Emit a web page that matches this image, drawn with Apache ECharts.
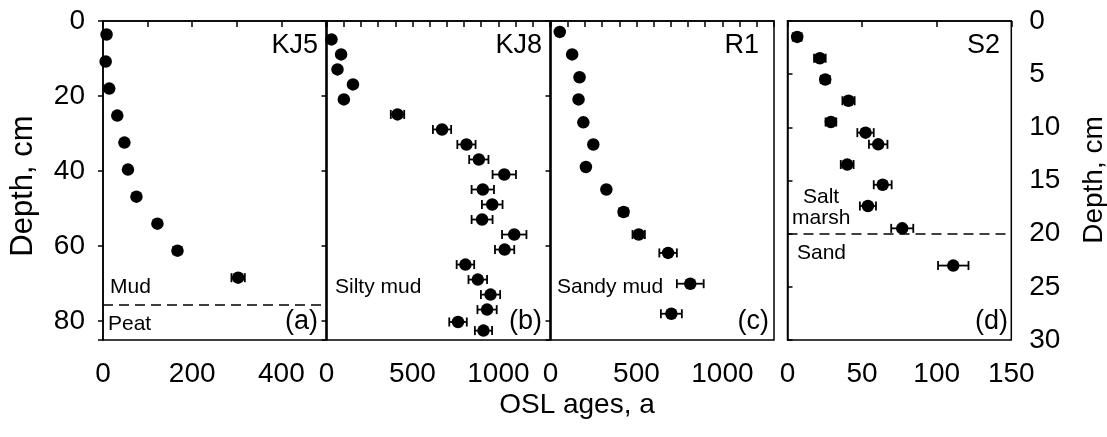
<!DOCTYPE html>
<html><head><meta charset="utf-8">
<script src="https://cdn.jsdelivr.net/npm/echarts@6/dist/echarts.min.js"></script>
<style>html,body{margin:0;padding:0;background:#fff}#c{width:1107px;height:437px}</style>
</head><body><div id="c"></div><script>
// ---- data ----
const kj5Age   = [8, 6, 14, 32, 48, 56, 75, 122, 167, 303];
const kj5Depth = [3.6, 10.8, 18, 25.2, 32.4, 39.6, 46.8, 54, 61.2, 68.4];
const kj5Err   = [3, 3, 3, 3, 3, 3, 4, 6, 9, 15];
const kj5Boundary = 75.6;

const kj8Age   = [29, 85, 64, 154, 101, 413, 672, 814, 886, 1034, 909, 964, 905, 1092, 1036, 808, 880, 954, 934, 765, 913];
const kj8Depth = [4.9, 8.9, 12.9, 16.9, 20.9, 24.9, 28.9, 32.9, 36.9, 40.9, 44.9, 48.9, 52.9, 56.9, 60.9, 64.9, 68.9, 72.9, 76.9, 80.2, 82.5];
const kj8Err   = [5, 5, 5, 8, 6, 39, 53, 53, 56, 68, 65, 60, 61, 71, 56, 51, 54, 56, 56, 51, 50];

const r1Age    = [54, 126, 169, 163, 191, 249, 206, 325, 425, 513, 684, 813, 703];
const r1Depth  = [2.9, 8.9, 15, 20.9, 27, 32.9, 38.9, 44.9, 50.9, 56.9, 61.8, 70, 78];
const r1Err    = [8, 8, 8, 8, 10, 10, 10, 15, 25, 36, 51, 78, 61];

const s2Age    = [6.5, 21.7, 25.3, 40.9, 29.1, 52.3, 60.8, 40, 63.8, 53.9, 76.9, 111.1];
const s2Depth  = [1.5, 3.5, 5.5, 7.5, 9.5, 10.5, 11.6, 13.5, 15.4, 17.4, 19.5, 23];
const s2Err    = [3, 3.9, 3, 4.1, 3.6, 5.5, 6.2, 4.3, 6, 5.4, 7.4, 10.2];
const s2Boundary = 20;

const yTicksLeft = [0, 20, 40, 60, 80];
const yTicksRight = [0, 5, 10, 15, 20, 25, 30];
const xTicksA = [0, 200, 400];
const xTicksBC = [0, 500, 1000];
const xTicksD = [0, 50, 100, 150];

// ---- chart ----
const FONT = "'Liberation Sans', Arial, Helvetica, sans-serif";
const chart = echarts.init(document.getElementById('c'), null, {renderer: 'canvas'});

const grids = [
  {left: 103, top: 21, width: 223, height: 319},
  {left: 326.5, top: 21, width: 223.5, height: 319},
  {left: 550.5, top: 21, width: 223.5, height: 319},
  {left: 787.5, top: 21, width: 223.8, height: 319}
].map(g => Object.assign(g, {show: true, borderColor: '#000', borderWidth: 1.5, backgroundColor: 'transparent', containLabel: false, outerBoundsMode: 'none'}));

function xAxis(gi, max, interval, shown) {
  return {
    type: 'value', gridIndex: gi, min: 0, max: max, interval: interval, position: 'bottom',
    axisLine: {show: true, lineStyle: {color: '#000', width: 1.5}},
    axisTick: {show: true, length: 6, lineStyle: {color: '#000', width: 1.5}},
    splitLine: {show: false},
    axisLabel: {show: true, margin: 20, fontSize: 28, color: '#000', fontFamily: FONT,
      formatter: v => shown.indexOf(v) >= 0 ? String(v) : ''}
  };
}
function yAxis(gi, max, interval, shown, pos, labels) {
  return {
    type: 'value', gridIndex: gi, min: 0, max: max, interval: interval, inverse: true, position: pos,
    axisLine: {show: true, lineStyle: {color: '#000', width: 1.5}},
    axisTick: {show: true, length: 5, lineStyle: {color: '#000', width: 1.5}},
    splitLine: {show: false},
    axisLabel: {show: labels, margin: 18, fontSize: 28, color: '#000', fontFamily: FONT,
      formatter: v => shown.indexOf(v) >= 0 ? String(v) : ''}
  };
}

function errRender(params, api) {
  const d = api.value(1);
  const lo = api.coord([api.value(2), d]);
  const hi = api.coord([api.value(3), d]);
  const h = 4.5;
  const style = {stroke: '#000', lineWidth: 1.8, fill: null};
  return {type: 'group', children: [
    {type: 'line', shape: {x1: lo[0], y1: lo[1], x2: hi[0], y2: hi[1]}, style: style},
    {type: 'line', shape: {x1: lo[0], y1: lo[1] - h, x2: lo[0], y2: lo[1] + h}, style: style},
    {type: 'line', shape: {x1: hi[0], y1: hi[1] - h, x2: hi[0], y2: hi[1] + h}, style: style}
  ]};
}

function panelSeries(gi, ages, depths, errs, boundary) {
  const pts = ages.map((a, i) => [a, depths[i]]);
  const errs4 = ages.map((a, i) => [a, depths[i], a - errs[i], a + errs[i]]);
  const sc = {
    type: 'scatter', xAxisIndex: gi, yAxisIndex: gi, data: pts, symbol: 'circle', symbolSize: 12.5,
    itemStyle: {color: '#000', opacity: 1}, z: 5, silent: true, animation: false
  };
  if (boundary != null) {
    sc.markLine = {silent: true, symbol: ['none', 'none'], label: {show: false}, animation: false,
      lineStyle: {type: [10, 6], color: '#000', width: 1.5, opacity: 1}, data: [{yAxis: boundary}]};
  }
  return [
    {type: 'custom', xAxisIndex: gi, yAxisIndex: gi, data: errs4, renderItem: errRender,
      encode: {x: [0, 2, 3], y: 1}, z: 3, silent: true, animation: false},
    sc
  ];
}

function txt(x, y, s, size, align, rot) {
  return {type: 'text', x: x, y: y, rotation: rot || 0, silent: true,
    style: {text: s, fontSize: size, fontFamily: FONT, fill: '#000', textAlign: align || 'left', textVerticalAlign: 'middle'}};
}

const option = {
  animation: false,
  backgroundColor: '#fff',
  textStyle: {fontFamily: FONT},
  grid: grids,
  xAxis: [
    xAxis(0, 500, 100, xTicksA),
    xAxis(1, 1300, 100, xTicksBC),
    xAxis(2, 1300, 100, xTicksBC),
    xAxis(3, 150, 50, xTicksD)
  ],
  yAxis: [
    yAxis(0, 85, 20, yTicksLeft, 'left', true),
    yAxis(1, 85, 20, yTicksLeft, 'left', false),
    yAxis(2, 85, 20, yTicksLeft, 'left', false),
    yAxis(3, 30, 5, yTicksRight, 'right', true)
  ],
  series: [].concat(
    panelSeries(0, kj5Age, kj5Depth, kj5Err, kj5Boundary),
    panelSeries(1, kj8Age, kj8Depth, kj8Err, null),
    panelSeries(2, r1Age, r1Depth, r1Err, null),
    panelSeries(3, s2Age, s2Depth, s2Err, s2Boundary)
  ),
  graphic: [
    txt(318, 46, 'KJ5', 27, 'right'),
    txt(542, 46, 'KJ8', 27, 'right'),
    txt(759, 46, 'R1', 27, 'right'),
    txt(1000, 46, 'S2', 27, 'right'),
    txt(318, 322, '(a)', 27, 'right'),
    txt(542, 322, '(b)', 27, 'right'),
    txt(769, 322, '(c)', 27, 'right'),
    txt(1008, 322, '(d)', 27, 'right'),
    txt(110, 287, 'Mud', 21, 'left'),
    txt(108, 324, 'Peat', 21, 'left'),
    txt(335, 287, 'Silty mud', 21, 'left'),
    txt(557, 287, 'Sandy mud', 21, 'left'),
    txt(803, 197, 'Salt', 21, 'left'),
    txt(792, 218, 'marsh', 21, 'left'),
    txt(797, 253, 'Sand', 21, 'left'),
    txt(577, 405, 'OSL ages, a', 28, 'center'),
    txt(23, 186, 'Depth, cm', 31, 'center', Math.PI / 2),
    txt(1094, 180, 'Depth, cm', 28, 'center', Math.PI / 2)
  ]
};
chart.setOption(option);
</script></body></html>
